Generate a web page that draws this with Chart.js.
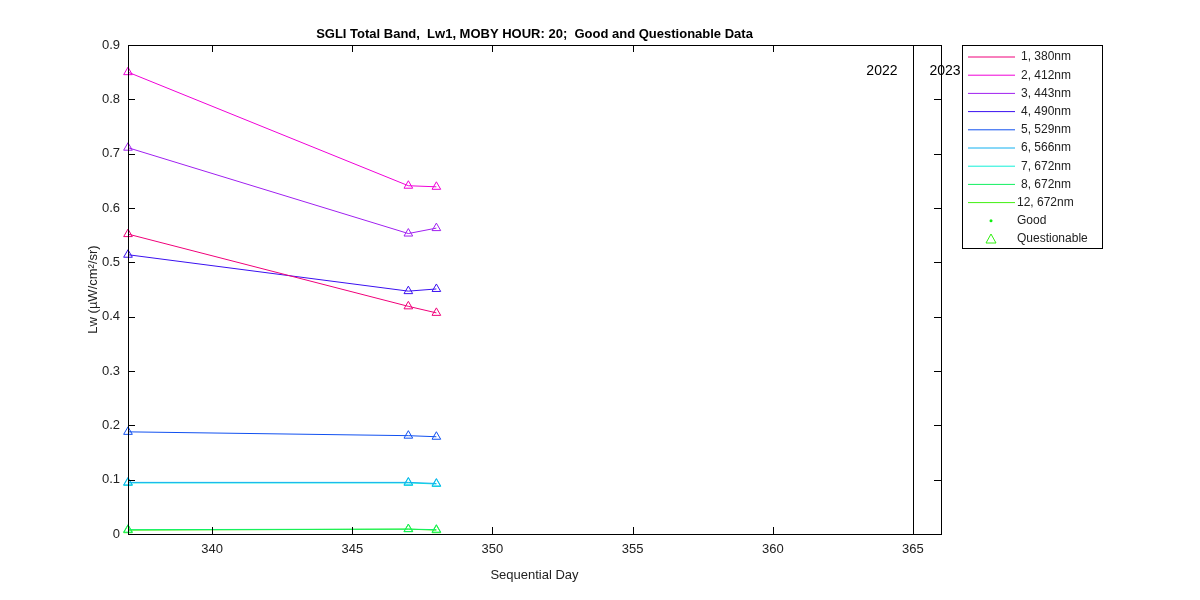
<!DOCTYPE html>
<html><head><meta charset="utf-8">
<script src="https://cdn.jsdelivr.net/npm/chart.js"></script>
<style>body{margin:0;background:#fff}</style>
</head><body>
<canvas id="c" width="1200" height="600"></canvas>
<script>
// dữ liệu
const days = [337, 347, 348];
const bandNames = ['1, 380nm','2, 412nm','3, 443nm','4, 490nm','5, 529nm','6, 566nm','7, 672nm','8, 672nm','12, 672nm'];
const bandColors = ['#f0007a','#f000d8','#a020f0','#3a10f0','#1050f0','#10b0f0','#10f0d8','#10f060','#40f010'];
const b380 = [0.552, 0.419, 0.407];
const b412 = [0.850, 0.641, 0.639];
const b443 = [0.711, 0.553, 0.563];
const b490 = [0.514, 0.447, 0.451];
const b529 = [0.188, 0.181, 0.179];
const b566 = [0.095, 0.095, 0.093];
const b672a = [0.094, 0.094, 0.092];
const b672b = [0.008, 0.009, 0.008];
const b672c = [0.007, 0.009, 0.007];
const yTicks = [0,0.1,0.2,0.3,0.4,0.5,0.6,0.7,0.8,0.9];
const xTicks = [340,345,350,355,360,365];
const allValues = [b380,b412,b443,b490,b529,b566,b672a,b672b,b672c];

const datasets = allValues.map((v,i) => ({
  label: bandNames[i],
  data: days.map((d,j) => ({x:d, y:v[j]})),
  borderColor: bandColors[i],
  backgroundColor: 'rgba(0,0,0,0)',
  borderWidth: 1,
  pointStyle: 'triangle',
  pointRadius: 5,
  pointBorderWidth: 1,
  pointBorderColor: bandColors[i],
  clip: false
}));

const FONT = '"Liberation Sans", Arial';
const extras = {
  id: 'extras',
  afterDraw(chart) {
    const c = chart.ctx, a = chart.chartArea, xs = chart.scales.x;
    c.save();
    c.strokeStyle = '#000'; c.lineWidth = 1;
    c.strokeRect(a.left+0.5, a.top+0.5, a.right-a.left, a.bottom-a.top);
    chart.scales.y.ticks.forEach(t => {
      const y = Math.round(chart.scales.y.getPixelForValue(t.value))+0.5;
      c.beginPath(); c.moveTo(a.left,y); c.lineTo(a.left+7,y);
      c.moveTo(a.right,y); c.lineTo(a.right-7,y); c.stroke();
    });
    xs.ticks.forEach(t => {
      const x = Math.round(xs.getPixelForValue(t.value))+0.5;
      c.beginPath(); c.moveTo(x,a.bottom); c.lineTo(x,a.bottom-7);
      c.moveTo(x,a.top); c.lineTo(x,a.top+7); c.stroke();
    });
    const xl = Math.round(xs.getPixelForValue(365))+0.5;
    c.beginPath(); c.moveTo(xl,a.top); c.lineTo(xl,a.bottom); c.stroke();
    c.fillStyle = '#000'; c.font = '14px ' + FONT;
    c.textBaseline = 'middle';
    c.textAlign = 'right'; c.fillText('2022', xl-16, 71);
    c.textAlign = 'left'; c.fillText('2023', xl+16, 71);
    c.font = 'bold 13px ' + FONT; c.textAlign = 'center';
    c.fillText('SGLI Total Band,  Lw1, MOBY HOUR: 20;  Good and Questionable Data', (a.left+a.right)/2, 34);
    // axis titles
    c.font = '13px ' + FONT; c.fillStyle = '#222';
    c.fillText('Sequential Day', (a.left+a.right)/2, 575);
    c.translate(93, (a.top+a.bottom)/2); c.rotate(-Math.PI/2);
    c.fillText('Lw (µW/cm²/sr)', 0, 0);
    c.setTransform(1,0,0,1,0,0);
    // legend
    const lx = 962, ly = 45, lw = 140, lh = 203;
    c.fillStyle = '#fff'; c.fillRect(lx, ly, lw, lh);
    c.strokeStyle = '#000'; c.strokeRect(lx+0.5, ly+0.5, lw, lh);
    c.font = '12px ' + FONT;
    bandNames.forEach((n,i) => {
      const y = ly + 12 + i*18.2;
      c.strokeStyle = bandColors[i];
      c.beginPath(); c.moveTo(lx+6,y); c.lineTo(lx+53,y); c.stroke();
      c.fillStyle = '#222'; c.textAlign = 'left';
      c.fillText(n, lx + (i===8 ? 55 : 59), y);
    });
    let y = ly + 12 + 9*18.2;
    c.fillStyle = '#10f010'; c.beginPath(); c.arc(lx+29, y, 1.5, 0, 7); c.fill();
    c.fillStyle = '#222'; c.fillText('Good', lx+55, y);
    y += 18.2;
    c.strokeStyle = '#30f010';
    c.beginPath(); c.moveTo(lx+29,y-5); c.lineTo(lx+34,y+4); c.lineTo(lx+24,y+4); c.closePath(); c.stroke();
    c.fillStyle = '#222'; c.fillText('Questionable', lx+55, y);
    c.restore();
  }
};

new Chart(document.getElementById('c'), {
  type: 'line',
  data: { datasets },
  options: {
    responsive: false, animation: false,
    layout: { padding: { top: 45, right: 259, left: 0, bottom: 0 } },
    plugins: { legend: { display: false }, tooltip: { enabled: false } },
    scales: {
      x: {
        type: 'linear', min: 337, max: 366,
        afterBuildTicks: s => { s.ticks = xTicks.map(v => ({value:v})); },
        afterFit: s => { s.height = 66; },
        grid: { display: false, drawTicks: false }, border: { display: false },
        ticks: { color: '#222', font: { size: 13, family: FONT }, padding: 8 }
      },
      y: {
        min: 0, max: 0.9,
        afterBuildTicks: s => { s.ticks = yTicks.map(v => ({value:v})); },
        afterFit: s => { s.width = 128; },
        grid: { display: false, drawTicks: false }, border: { display: false },
        ticks: { color: '#222', font: { size: 13, family: FONT }, padding: 8 }
      }
    }
  },
  plugins: [extras]
});
</script>
</body></html>
